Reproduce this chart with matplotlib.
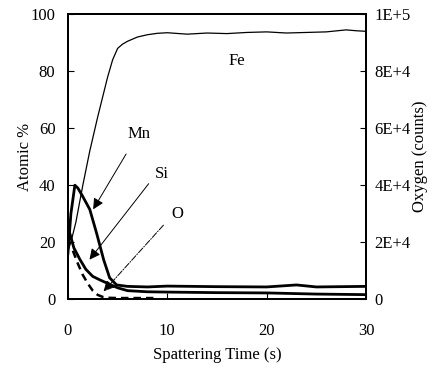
import matplotlib.pyplot as plt

plt.rcParams['font.family'] = ['Liberation Serif', 'DejaVu Serif']

# Fe, thin line (atomic %)
fe_t = [0, 0.3, 0.8, 1.5, 2.2, 3.0, 3.5, 4.0, 4.5, 5.0, 5.5, 6, 7, 8, 9, 10,
        12, 14, 16, 18, 20, 22, 24, 26, 28, 29, 30]
fe_v = [17, 20, 27, 40, 52, 64, 71, 78, 84, 88, 89.5, 90.5, 92, 92.8, 93.3, 93.5,
        93, 93.4, 93.2, 93.6, 93.8, 93.4, 93.6, 93.8, 94.5, 94.2, 94]

# Mn, thick line
mn_t = [0, 0.3, 0.7, 1.0, 1.5, 2.2, 2.9, 3.6, 4.2, 4.9, 6, 8, 10, 15, 20, 23, 25, 30]
mn_v = [16, 30, 40, 39, 36, 31.5, 23, 13.8, 7.5, 5, 4.5, 4.3, 4.6, 4.4, 4.3, 5.0, 4.3, 4.5]

# Si, thick line
si_t = [0, 0.2, 0.6, 1.2, 1.8, 2.5, 3.2, 3.9, 5, 6, 8, 10, 15, 20, 25, 30]
si_v = [24, 23, 18, 14, 10.5, 8, 6.8, 5.7, 4, 3, 2.6, 2.5, 2.3, 2.2, 1.8, 1.6]

# O, dashed line (counts, right axis)
o_t = [0.5, 1, 1.5, 2, 2.5, 3, 3.5, 4, 5, 6, 8, 9]
o_c = [17000, 12500, 8500, 5500, 3000, 1500, 800, 500, 400, 400, 400, 400]

# labels: (text, text pos, arrow tail, arrow head)
labels = [
    ("Mn", (7.2, 58), (6.0, 51.8), (2.4, 30.7)),
    ("Si", (9.4, 44), (8.3, 41.3), (2.0, 13.1)),
    ("O", (11.0, 30), (9.8, 26.7), (3.4, 2.0)),
]

fig = plt.figure(figsize=(4.41, 3.74), dpi=100)
ax = fig.add_axes([0.154, 0.2, 0.676, 0.762])

ax.plot(fe_t, fe_v, color='black', lw=0.9)
ax.plot(mn_t, mn_v, color='black', lw=2.0)
ax.plot(si_t, si_v, color='black', lw=2.0)

ax.set_xlim(0, 30)
ax.set_ylim(0, 100)
ax.set_xticks([0, 10, 20, 30])
ax.set_yticks([0, 20, 40, 60, 80, 100])
ax.tick_params(direction='in', labelsize=12, length=4)
ax.tick_params(axis='y', pad=9)
ax.tick_params(axis='x', pad=17)
ax.set_xlabel("Spattering Time (s)", fontsize=12, labelpad=6)
ax.set_ylabel("Atomic %", fontsize=12, labelpad=-2)

ax2 = ax.twinx()
ax2.plot(o_t, o_c, color='black', lw=1.8, ls=(0, (3, 2)))
ax2.set_ylim(0, 100000)
ax2.set_yticks([0, 20000, 40000, 60000, 80000, 100000])
ax2.set_yticklabels(["0", "2E+4", "4E+4", "6E+4", "8E+4", "1E+5"])
ax2.tick_params(direction='in', labelsize=12, length=4, pad=6)
ax2.set_ylabel("Oxygen (counts)", fontsize=12, labelpad=1)

ax.text(17, 83.6, "Fe", fontsize=12, ha='center', va='center')
for name, tpos, tail, head in labels:
    ax.text(tpos[0], tpos[1], name, fontsize=12, ha='center', va='center')
    ls = '-.' if name == "O" else '-'
    ax.annotate("", xy=head, xytext=tail,
                arrowprops=dict(arrowstyle='-|>', mutation_scale=16, lw=0.7,
                                color='black', linestyle=ls))

for a in (ax, ax2):
    for s in a.spines.values():
        s.set_linewidth(1.4)

fig.savefig("out.png", dpi=100)
